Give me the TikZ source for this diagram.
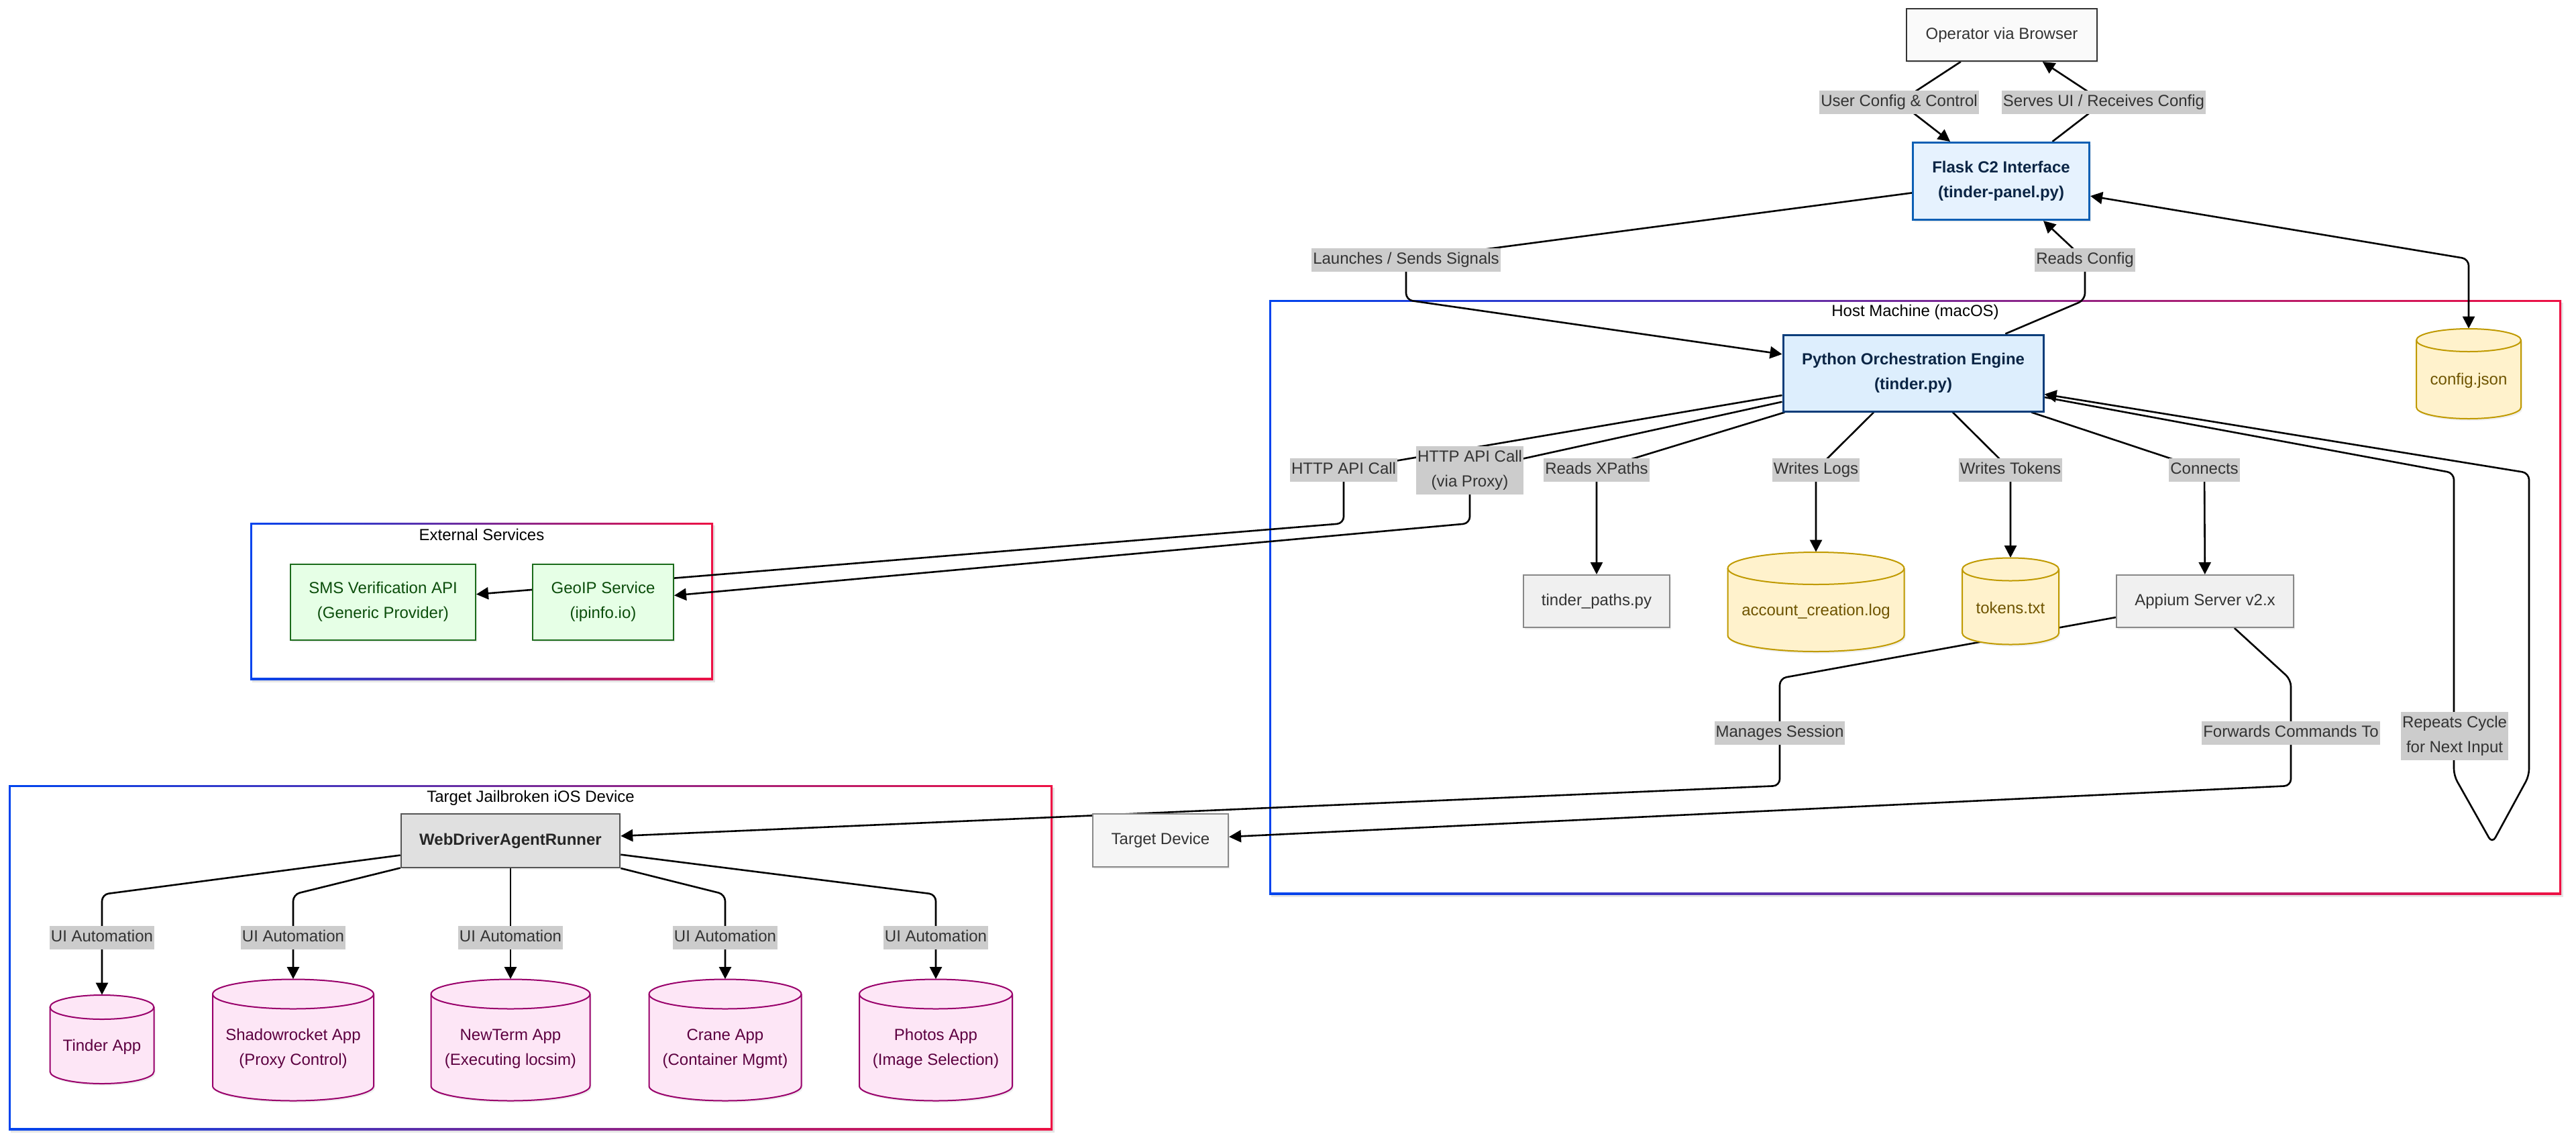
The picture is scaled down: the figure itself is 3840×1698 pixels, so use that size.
\documentclass[tikz,border=0pt]{standalone}
\usepackage{fontspec}
\setmainfont{Liberation Sans}
\usetikzlibrary{positioning,calc,arrows.meta,shadows}

\definecolor{lblgray}{HTML}{CCCCCC}
\definecolor{txtgray}{HTML}{333333}
\definecolor{flaskline}{HTML}{0B5FB4}
\definecolor{flaskfill}{HTML}{E6F2FE}
\definecolor{pyline}{HTML}{0B3D7A}
\definecolor{pyfill}{HTML}{DDEEFD}
\definecolor{navytext}{HTML}{0B2545}
\definecolor{greenfill}{HTML}{E6FFE6}
\definecolor{greenline}{HTML}{1B6B1B}
\definecolor{greentext}{HTML}{0B4D0B}
\definecolor{grayfill}{HTML}{F0F0F0}
\definecolor{grayline}{HTML}{888888}
\definecolor{yelfill}{HTML}{FFF2CC}
\definecolor{yelline}{HTML}{C09A00}
\definecolor{yeltext}{HTML}{6E5400}
\definecolor{pinkfill}{HTML}{FDE6F6}
\definecolor{pinkline}{HTML}{99006B}
\definecolor{pinktext}{HTML}{5C0040}
\definecolor{wdafill}{HTML}{E0E0E0}
\definecolor{wdaline}{HTML}{555555}
\definecolor{grpblue}{HTML}{0044EE}
\definecolor{grpred}{HTML}{EE1144}

\pgfdeclarelayer{groups}
\pgfdeclarelayer{edges}
\pgfsetlayers{groups,edges,main}

\tikzstyle{softshadow}=[drop shadow={opacity=0.12,shadow xshift=1pt,shadow yshift=-1.5pt}]
\tikzstyle{box}=[rectangle,draw,line width=1pt,align=center,inner sep=2pt,softshadow,font=\fontsize{12}{18.5}\selectfont]
\tikzstyle{operbox}=[box,fill=black!2,draw=txtgray,text=txtgray]
\tikzstyle{bluebox}=[box,line width=1.5pt,text=navytext,font=\bfseries\fontsize{12}{18.5}\selectfont]
\tikzstyle{plainbox}=[box,fill=grayfill,draw=grayline,text=txtgray]
\tikzstyle{greenbox}=[box,fill=greenfill,draw=greenline,text=greentext]
\tikzstyle{wdabox}=[box,fill=wdafill,draw=wdaline,line width=1.3pt,text=black!85,font=\bfseries\fontsize{12}{18.5}\selectfont]
\tikzstyle{lbl}=[fill=lblgray,text=txtgray,inner xsep=1pt,inner ysep=3pt,text height=9pt,text depth=2.5pt,font=\fontsize{12}{18.5}\selectfont]
\tikzstyle{lbltwo}=[fill=lblgray,text=txtgray,inner xsep=1pt,inner ysep=3pt,align=center,font=\fontsize{12}{18.5}\selectfont]
\tikzstyle{grptitle}=[text=black,inner sep=0pt,font=\fontsize{12}{18.5}\selectfont]
\tikzstyle{edge}=[draw,line width=1.3pt,rounded corners=5pt,-{Triangle[length=9pt,width=9pt]}]
\tikzstyle{drumtext}=[inner sep=0pt,align=center,font=\fontsize{12}{18.5}\selectfont]
\tikzset{yel drum/.style={fill=yelfill,draw=yelline,line width=1pt},
         yel text/.style={text=yeltext},
         pink drum/.style={fill=pinkfill,draw=pinkline,line width=1pt},
         pink text/.style={text=pinktext}}

% cylinder: name, x, y, width, height, ellipse radius, colour, text (pixels, y down)
\newcommand{\drumnode}[8]{%
  \path[#7 drum,softshadow] (#2-#4/2,-#3+#5/2-#6) -- (#2-#4/2,-#3-#5/2+#6)
    arc[start angle=180,end angle=360,x radius=#4/2,y radius=#6]
    -- (#2+#4/2,-#3+#5/2-#6)
    arc[start angle=0,end angle=180,x radius=#4/2,y radius=#6] -- cycle;
  \path[#7 drum,fill=none] (#2-#4/2,-#3+#5/2-#6)
    arc[start angle=180,end angle=360,x radius=#4/2,y radius=#6];
  \node[inner sep=0pt,minimum width=#4*0.5pt,minimum height=#5*0.5pt] (#1) at (#2,-#3) {};
  \node[drumtext,#7 text] (#1 txt) at (#2,-#3-0.6*#6) {#8};
}
% gradient frame of a group: x1, y1, x2, y2
\newcommand{\grpring}[4]{%
  \fill[black!10] (#1+3,-#2-4) rectangle (#3+3,-#4-4);
  \shade[left color=grpblue,right color=grpred] (#1,-#2) rectangle (#3,-#4);
  \fill[white] (#1+3,-#2-3) rectangle (#3-3,-#4+3);
}

\begin{document}
\begin{tikzpicture}[x=0.5pt,y=0.5pt]
    \useasboundingbox (0,0) rectangle (3840,-1698);

    % Group frames first
    \begin{pgfonlayer}{groups}
        \fill[white] (0,0) rectangle (3840,-1698);
        \grpring{1892}{447}{3818}{1333}
        \grpring{373}{779}{1063}{1013}
        \grpring{13}{1170}{1569}{1684}
    \end{pgfonlayer}
    \node[grptitle] (hosttitle) at (2855,-465) {Host Machine (macOS)};
    \node[grptitle] (exttitle) at (718,-797) {External Services};
    \node[grptitle] (devtitle) at (791,-1189) {Target Jailbroken iOS Device};

    % Then the boxes
    \node[operbox,minimum width=142pt,minimum height=39pt] (oper) at (2984,-52) {Operator via Browser};
    \node[bluebox,fill=flaskfill,draw=flaskline,minimum width=131.5pt,minimum height=57.5pt] (flask) at (2983,-270) {Flask C2 Interface\\(tinder-panel.py)};
    \node[bluebox,fill=pyfill,draw=pyline,minimum width=194pt,minimum height=57pt] (python) at (2852,-556) {Python Orchestration Engine\\(tinder.py)};
    \node[plainbox,minimum width=109pt,minimum height=39pt] (tpaths) at (2380,-896) {tinder\_paths.py};
    \node[plainbox,minimum width=132pt,minimum height=39pt] (appium) at (3287,-896) {Appium Server v2.x};
    \node[plainbox,fill=black!4,minimum width=101pt,minimum height=39.5pt] (tdev) at (1730,-1252) {Target Device};
    \node[greenbox,minimum width=138pt,minimum height=56.5pt] (sms) at (571,-897) {SMS Verification API\\(Generic Provider)};
    \node[greenbox,minimum width=105pt,minimum height=56.5pt] (geoip) at (899,-897) {GeoIP Service\\(ipinfo.io)};
    \node[wdabox,minimum width=163pt,minimum height=40pt] (wda) at (761,-1253) {WebDriverAgentRunner};

    % Stores
    \drumnode{config}{3680}{557}{156}{134}{17}{yel}{config.json}
    \drumnode{acclog}{2707}{897}{263}{148}{24}{yel}{account\_creation.log}
    \drumnode{tokens}{2997}{896}{144}{129}{17}{yel}{tokens.txt}
    \drumnode{tinderapp}{152}{1549}{155}{132}{18}{pink}{Tinder App}
    \drumnode{shadow}{437}{1550}{240}{181}{22}{pink}{Shadowrocket App\\(Proxy Control)}
    \drumnode{newterm}{761}{1550}{237}{181}{22}{pink}{NewTerm App\\(Executing locsim)}
    \drumnode{crane}{1081}{1550}{227}{181}{22}{pink}{Crane App\\(Container Mgmt)}
    \drumnode{photos}{1395}{1550}{228}{181}{22}{pink}{Photos App\\(Image Selection)}

    % Edge labels
    \node[lbl] (luser) at (2831,-152) {User Config \& Control};
    \node[lbl] (lserves) at (3136,-152) {Serves UI / Receives Config};
    \node[lbl] (llaunch) at (2096,-387) {Launches / Sends Signals};
    \node[lbl] (lrcfg) at (3108,-387) {Reads Config};
    \node[lbl] (lhttp) at (2003,-700) {HTTP API Call};
    \node[lbltwo] (lproxy) at (2191,-701) {HTTP API Call\\(via Proxy)};
    \node[lbl] (lxpath) at (2380,-700) {Reads XPaths};
    \node[lbl] (llogs) at (2707,-700) {Writes Logs};
    \node[lbl] (ltok) at (2997,-700) {Writes Tokens};
    \node[lbl] (lconn) at (3286,-700) {Connects};
    \node[lbl] (lmanage) at (2653,-1092) {Manages Session};
    \node[lbl] (lfwd) at (3415,-1092) {Forwards Commands To};
    \node[lbltwo] (lrepeat) at (3659,-1097) {Repeats Cycle\\for Next Input};
    \foreach \pos/\name in {{(152,-1397)/lui1}, {(437,-1397)/lui2}, {(761,-1397)/lui3}, {(1081,-1397)/lui4}, {(1395,-1397)/lui5}}
        \node[lbl] (\name) at \pos {UI Automation};

    % Bend points
    \coordinate (launchbend) at (2096,-447);
    \coordinate (rcfgbend) at (3108,-447);
    \coordinate (cfgbend) at (3680,-386);
    \coordinate (httpbend) at (2003,-780);
    \coordinate (proxybend) at (2191,-780);
    \coordinate (mantop) at (2653,-1011);
    \coordinate (manbot) at (2653,-1171);
    \coordinate (fwdtop) at (3415,-1013);
    \coordinate (fwdbot) at (3415,-1171);
    \coordinate (loopa) at (3658,-705);
    \coordinate (loopb) at (3658,-1156);
    \coordinate (looptip) at (3715,-1257);
    \coordinate (loopc) at (3770,-1156);
    \coordinate (loopd) at (3770,-705);
    \foreach \name/\x in {uib1/152, uib2/437, uib4/1081, uib5/1395}
        \coordinate (\name) at (\x,-1333);

    % Connect boxes with edges
    \begin{pgfonlayer}{edges}
        \path[edge] (oper) -- (luser.center) -- (flask);
        \path[edge] (flask) -- (lserves.center) -- (oper);
        \path[edge] (flask) -- (llaunch.center) -- (launchbend) -- (python);
        \path[edge] (python) -- (rcfgbend) -- (lrcfg.center) -- (flask);
        \path[edge,{Triangle[length=9pt,width=9pt]}-{Triangle[length=9pt,width=9pt]}] (flask) -- (cfgbend) -- (config);
        \path[edge] (python) -- (lhttp.center) -- (httpbend) -- (sms);
        \path[edge] (python) -- (lproxy.center) -- (proxybend) -- (geoip);
        \foreach \lab/\dest in {lxpath/tpaths, llogs/acclog, ltok/tokens, lconn/appium}
            \path[edge] (python) -- (\lab.center) -- (\dest);
        \path[edge] (python) -- (loopa) -- (loopb) -- (looptip) -- (loopc) -- (loopd) -- (python);
        \path[edge] (appium) -- (mantop) -- (lmanage.center) -- (manbot) -- (wda);
        \path[edge] (appium) -- (fwdtop) -- (lfwd.center) -- (fwdbot) -- (tdev);
        \foreach \bend/\lab/\dest in {uib1/lui1/tinderapp, uib2/lui2/shadow, uib4/lui4/crane, uib5/lui5/photos}
            \path[edge] (wda) -- (\bend) -- (\lab.center) -- (\dest);
        \path[edge] (wda) -- (lui3.center) -- (newterm);
    \end{pgfonlayer}
\end{tikzpicture}
\end{document}
